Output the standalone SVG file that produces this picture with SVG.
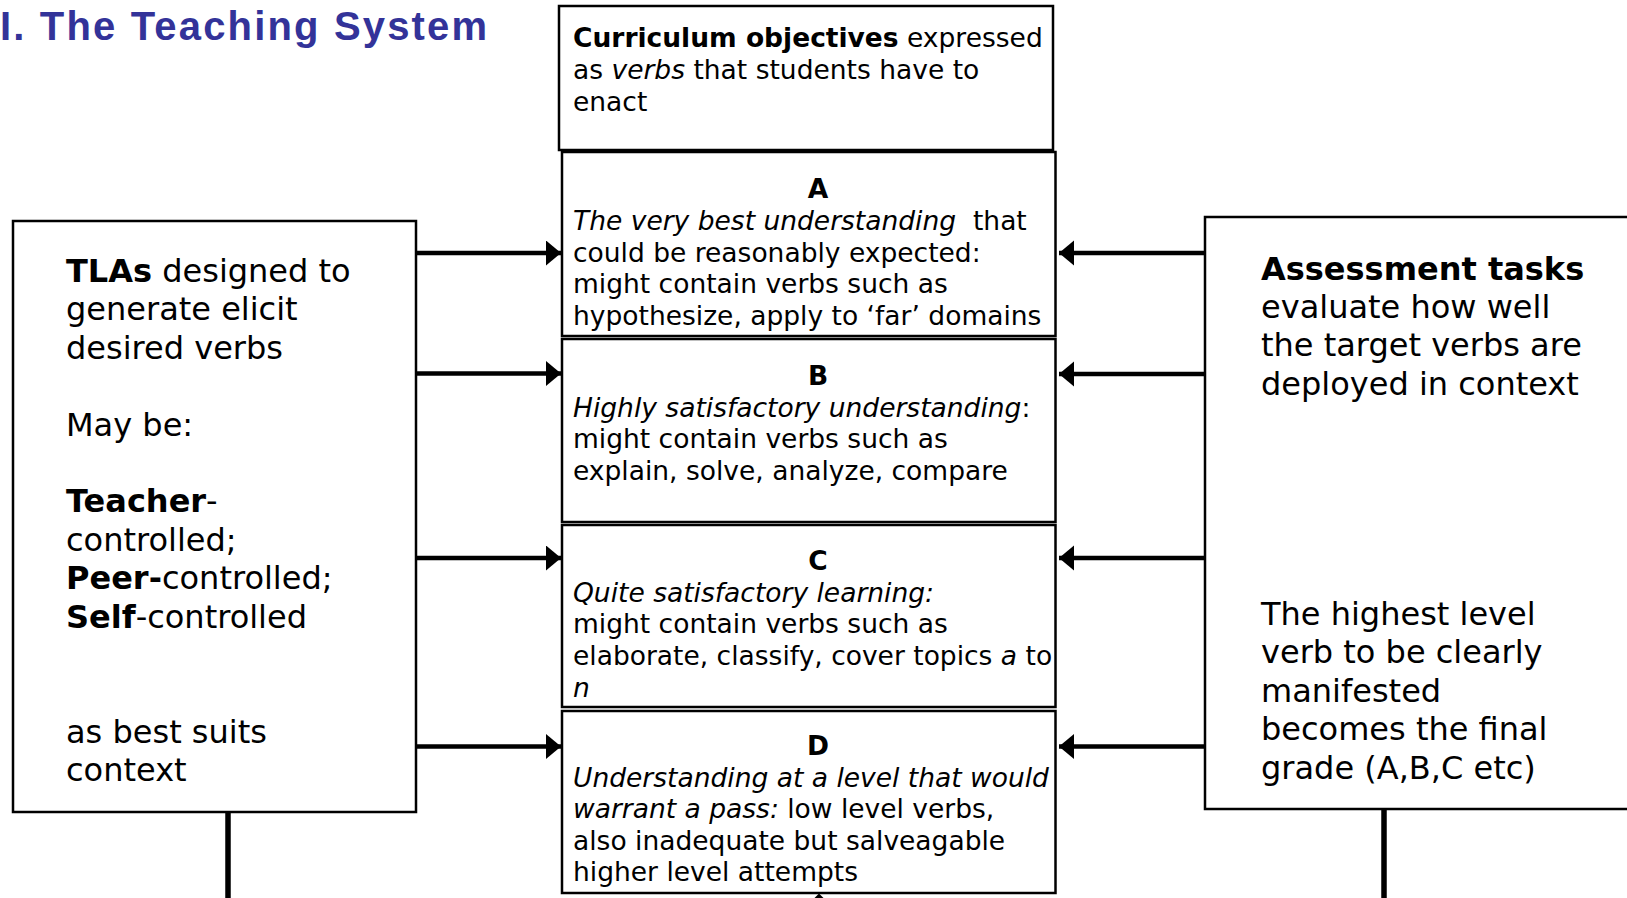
<svg xmlns="http://www.w3.org/2000/svg" width="1627" height="898" viewBox="0 0 1627 898">
<style>
.t{font-family:"DejaVu Sans",Verdana,sans-serif;fill:#000}
.m{font-size:26.5px}
.l{font-size:32px}
.b{font-weight:bold}
.i{font-style:italic}
.box{fill:#fff;stroke:#000;stroke-width:2.5}
.con{stroke:#000;stroke-width:4.5;fill:none}
</style>
<defs>
<marker id="ah" markerUnits="userSpaceOnUse" markerWidth="16" markerHeight="26" refX="15" refY="12.5" orient="auto">
<path d="M0,0 L15,12.5 L0,25 Z" fill="#000"/>
</marker>
<clipPath id="clipC"><rect x="563" y="525" width="491" height="182"/></clipPath>
<clipPath id="clipD"><rect x="563" y="711" width="491" height="181"/></clipPath>
</defs>
<rect width="1627" height="898" fill="#fff"/>

<text x="0" y="40" font-family="'Liberation Sans',Arial,sans-serif" font-weight="bold" font-size="40" fill="#333399" textLength="487" lengthAdjust="spacing">I. The Teaching System</text>

<g id="connectors">
<line class="con" x1="416" y1="253" x2="561" y2="253" marker-end="url(#ah)"/>
<line class="con" x1="416" y1="373.5" x2="561" y2="373.5" marker-end="url(#ah)"/>
<line class="con" x1="416" y1="558" x2="561" y2="558" marker-end="url(#ah)"/>
<line class="con" x1="416" y1="746.5" x2="561" y2="746.5" marker-end="url(#ah)"/>
<line class="con" x1="1205" y1="253" x2="1059" y2="253" marker-end="url(#ah)"/>
<line class="con" x1="1205" y1="374" x2="1059" y2="374" marker-end="url(#ah)"/>
<line class="con" x1="1205" y1="558" x2="1059" y2="558" marker-end="url(#ah)"/>
<line class="con" x1="1205" y1="746.5" x2="1059" y2="746.5" marker-end="url(#ah)"/>
<line x1="228" y1="812" x2="228" y2="898" stroke="#000" stroke-width="5.5"/>
<line x1="1384" y1="809" x2="1384" y2="898" stroke="#000" stroke-width="5.5"/>
<path d="M819,893.5 L814.5,898 L823.5,898 Z" fill="#000"/>
</g>

<g id="curriculum">
<rect class="box" x="559" y="6" width="494" height="144" stroke-width="2"/>
<text class="t m" x="573" y="46.5"><tspan class="b">Curriculum objectives</tspan> expressed</text>
<text class="t m" x="573" y="78.5">as <tspan class="i">verbs</tspan> that students have to</text>
<text class="t m" x="573" y="110.5">enact</text>
</g>

<g id="gradeA">
<rect class="box" x="562" y="152" width="493.5" height="184"/>
<text class="t m b" x="818" y="198" text-anchor="middle">A</text>
<text class="t m" x="573" y="229.5" xml:space="preserve"><tspan class="i">The very best understanding</tspan>  that</text>
<text class="t m" x="573" y="261.5">could be reasonably expected:</text>
<text class="t m" x="573" y="293">might contain verbs such as</text>
<text class="t m" x="573" y="324.5">hypothesize, apply to ‘far’ domains</text>
</g>

<g id="gradeB">
<rect class="box" x="562" y="339" width="493.5" height="183"/>
<text class="t m b" x="818" y="385" text-anchor="middle">B</text>
<text class="t m" x="573" y="416.5"><tspan class="i">Highly satisfactory understanding</tspan>:</text>
<text class="t m" x="573" y="448">might contain verbs such as</text>
<text class="t m" x="573" y="479.5">explain, solve, analyze, compare</text>
</g>

<g id="gradeC">
<rect class="box" x="562" y="525" width="493.5" height="182"/>
<g clip-path="url(#clipC)">
<text class="t m b" x="818" y="570" text-anchor="middle">C</text>
<text class="t m i" x="573" y="601.5">Quite satisfactory learning:</text>
<text class="t m" x="573" y="633">might contain verbs such as</text>
<text class="t m" x="573" y="664.5">elaborate, classify, cover topics <tspan class="i">a</tspan> to</text>
<text class="t m i" x="573" y="696.5">n</text>
</g>
</g>

<g id="gradeD">
<rect class="box" x="562" y="711" width="493.5" height="182"/>
<g clip-path="url(#clipD)">
<text class="t m b" x="818" y="755" text-anchor="middle">D</text>
<text class="t m i" x="573" y="786.5">Understanding at a level that would</text>
<text class="t m" x="573" y="818"><tspan class="i">warrant a pass:</tspan> low level verbs,</text>
<text class="t m" x="573" y="849.5">also inadequate but salveagable</text>
<text class="t m" x="573" y="881">higher level attempts</text>
</g>
</g>

<g id="tlas">
<rect class="box" x="13" y="221" width="403" height="591" stroke-width="2"/>
<text class="t l" x="66" y="282"><tspan class="b">TLAs</tspan> designed to</text>
<text class="t l" x="66" y="320.4">generate elicit</text>
<text class="t l" x="66" y="358.8">desired verbs</text>
<text class="t l" x="66" y="435.6">May be:</text>
<text class="t l" x="66" y="512.4"><tspan class="b">Teacher</tspan>-</text>
<text class="t l" x="66" y="550.8">controlled;</text>
<text class="t l" x="66" y="589.2"><tspan class="b">Peer-</tspan>controlled;</text>
<text class="t l" x="66" y="627.6"><tspan class="b">Self</tspan>-controlled</text>
<text class="t l" x="66" y="742.8">as best suits</text>
<text class="t l" x="66" y="781.2">context</text>
</g>

<g id="assessment">
<rect class="box" x="1205" y="217" width="440" height="592" stroke-width="2"/>
<text class="t l b" x="1261" y="279.5">Assessment tasks</text>
<text class="t l" x="1261" y="317.9">evaluate how well</text>
<text class="t l" x="1261" y="356.3">the target verbs are</text>
<text class="t l" x="1261" y="394.7">deployed in context</text>
<text class="t l" x="1261" y="625">The highest level</text>
<text class="t l" x="1261" y="663.4">verb to be clearly</text>
<text class="t l" x="1261" y="701.8">manifested</text>
<text class="t l" x="1261" y="740.2">becomes the final</text>
<text class="t l" x="1261" y="778.6">grade (A,B,C etc)</text>
</g>
</svg>
